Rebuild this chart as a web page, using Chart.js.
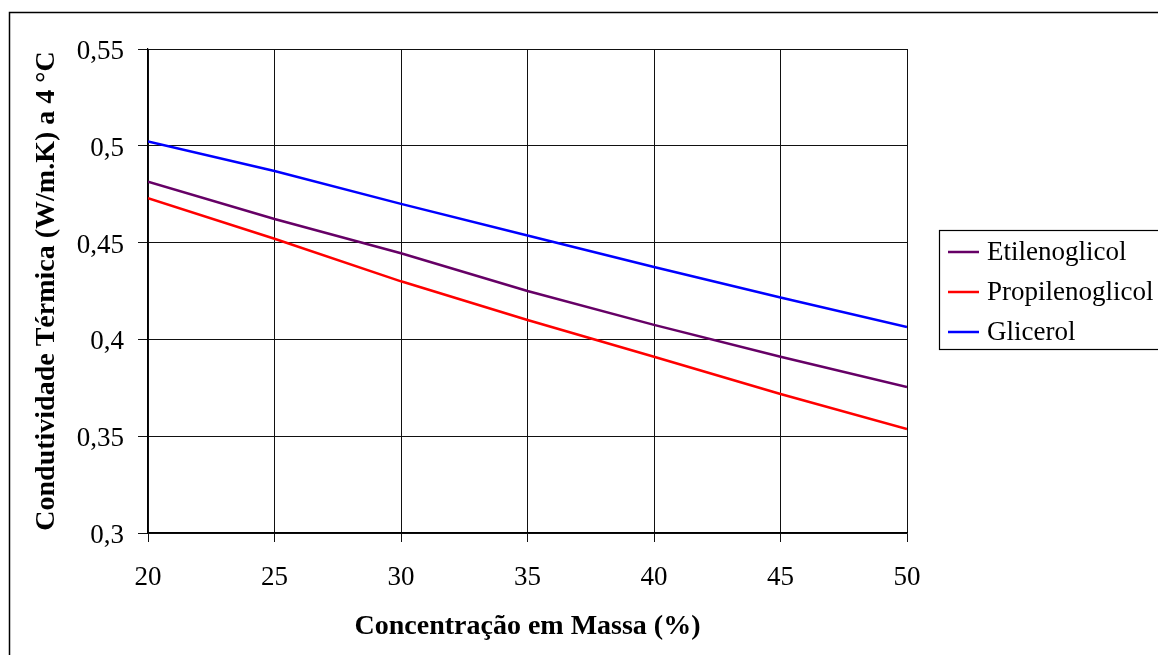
<!DOCTYPE html>
<html>
<head>
<meta charset="utf-8">
<script src="https://cdn.jsdelivr.net/npm/chart.js@4.4.0/dist/chart.umd.min.js"></script>
<style>
  html, body { margin: 0; padding: 0; background: #fff; }
  #wrap { width: 1158px; height: 655px; position: relative; }
</style>
</head>
<body>
<div id="wrap"><canvas id="c"></canvas></div>
<script>
const concentrations = [20, 25, 30, 35, 40, 45, 50];
const etilenoglicol   = [0.4815, 0.4622, 0.4445, 0.4250, 0.4075, 0.3910, 0.3754];
const propilenoglicol = [0.4730, 0.4520, 0.4300, 0.4100, 0.3910, 0.3718, 0.3537];
const glicerol        = [0.5022, 0.4870, 0.4700, 0.4537, 0.4374, 0.4216, 0.4064];
const seriesNames = ['Etilenoglicol', 'Propilenoglicol', 'Glicerol'];
const xTicks = [20, 25, 30, 35, 40, 45, 50];
const yTicks = [0.3, 0.35, 0.4, 0.45, 0.5, 0.55];
const xTitle = 'Concentração em Massa (%)';
const yTitle = 'Condutividade Térmica (W/m.K) a 4 °C';

const colors = ['#660066', '#ff0000', '#0000ff'];
const seriesValues = [etilenoglicol, propilenoglicol, glicerol];
const FONT = '"Liberation Serif", "Times New Roman", serif';

const datasets = seriesNames.map((name, i) => ({
  label: name,
  data: concentrations.map((x, j) => ({ x: x, y: seriesValues[i][j] })),
  borderColor: colors[i],
  backgroundColor: colors[i],
  borderWidth: 2.5,
  pointRadius: 0,
  tension: 0,
  fill: false
}));

const framePlugin = {
  id: 'frame',
  afterDraw(chart) {
    const ctx = chart.ctx;
    ctx.save();
    ctx.strokeStyle = '#000';
    ctx.lineWidth = 1.5;
    ctx.beginPath();
    ctx.moveTo(9.5, 660);
    ctx.lineTo(9.5, 12.5);
    ctx.lineTo(1165, 12.5);
    ctx.stroke();
    ctx.lineWidth = 1.2;
    ctx.strokeRect(939.5, 230.5, 240, 119);
    ctx.font = '27px ' + FONT;
    ctx.textBaseline = 'middle';
    ctx.textAlign = 'left';
    chart.data.datasets.forEach((ds, i) => {
      const y = 252 + i * 40;
      ctx.strokeStyle = ds.borderColor;
      ctx.lineWidth = 2.5;
      ctx.beginPath();
      ctx.moveTo(948, y);
      ctx.lineTo(979, y);
      ctx.stroke();
      ctx.fillStyle = '#000';
      ctx.fillText(ds.label, 987, y + 1);
    });
    ctx.restore();
  }
};

new Chart(document.getElementById('c'), {
  type: 'line',
  data: { datasets: datasets },
  plugins: [framePlugin],
  options: {
    responsive: true,
    maintainAspectRatio: false,
    animation: false,
    layout: { padding: { left: 0, top: 49, right: 251, bottom: 0 } },
    plugins: { legend: { display: false }, tooltip: { enabled: false } },
    scales: {
      x: {
        type: 'linear',
        min: 20, max: 50,
        afterBuildTicks: (s) => { s.ticks = xTicks.map(v => ({ value: v })); },
        afterFit: (s) => { s.height = 122; },
        ticks: {
          color: '#000',
          font: { family: FONT, size: 27 },
          padding: 20,
          maxRotation: 0,
          callback: (v) => String(v)
        },
        grid: { color: '#111', lineWidth: 1, tickLength: 9, drawTicks: true },
        border: { color: '#000', width: 1.2 },
        title: {
          display: true,
          text: xTitle,
          color: '#000',
          font: { family: FONT, size: 28, weight: 'bold' },
          padding: { top: 0, bottom: 11 }
        }
      },
      y: {
        type: 'linear',
        min: 0.3, max: 0.55,
        afterBuildTicks: (s) => { s.ticks = yTicks.map(v => ({ value: v })); },
        afterFit: (s) => { s.width = 148; },
        ticks: {
          color: '#000',
          font: { family: FONT, size: 27 },
          padding: 14,
          labelOffset: 3,
          callback: (v) => String(Math.round(v * 100) / 100).replace('.', ',')
        },
        grid: { color: '#111', lineWidth: 1, tickLength: 10 },
        border: { color: '#000', width: 1.2 },
        title: {
          display: true,
          text: yTitle,
          color: '#000',
          font: { family: FONT, size: 28, weight: 'bold' },
          padding: { top: 30, bottom: 0 }
        }
      }
    }
  }
});
</script>
</body>
</html>
